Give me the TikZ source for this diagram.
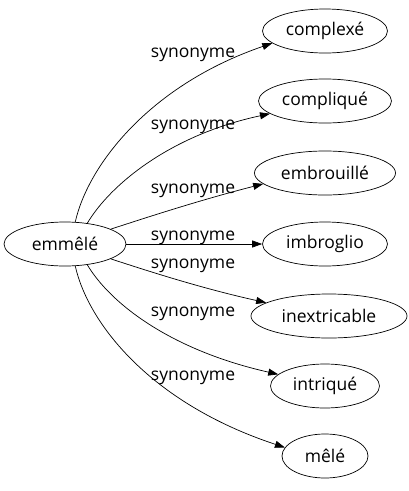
\documentclass[tikz,border=0pt]{standalone}
\usepackage{fontspec}
\setmainfont{Open Sans}
\usetikzlibrary{shapes.geometric,arrows.meta}
\begin{document}
\begin{tikzpicture}[x=1pt,y=-1pt,
  word/.style={draw,ellipse,inner sep=0pt,minimum height=44pt,line width=0.7pt,font=\fontsize{17.5}{20}\selectfont},
  rel/.style={-{Triangle[length=10pt,width=7pt]},line width=0.7pt},
  lab/.style={font=\fontsize{17.5}{20}\selectfont,inner sep=0pt,anchor=base}]
\useasboundingbox (0,0) rectangle (408,491);
\node[word,minimum width=122pt] (src) at (65,244) {emmêlé};
\node[word,minimum width=125pt] (a) at (325,31) {complexé};
\node[word,minimum width=133pt] (b) at (325,101) {compliqué};
\node[word,minimum width=141pt] (c) at (325,173) {embrouillé};
\node[word,minimum width=125pt] (d) at (325,244) {imbroglio};
\node[word,minimum width=156pt] (e) at (329,316) {inextricable};
\node[word,minimum width=109pt] (f) at (325,386) {intriqué};
\node[word,minimum width=86pt] (g) at (325,456) {mêlé};
\draw[rel] (src.65) .. controls (88,165) and (150,85) .. (a.193);
\draw[rel] (src.43) .. controls (110,185) and (170,135) .. (b.193);
\draw[rel] (src.18) .. controls (145,218) and (200,200) .. (c.190);
\draw[rel] (src) -- (d);
\draw[rel] (src.-18) .. controls (145,270) and (200,288) .. (e.168);
\draw[rel] (src.-43) .. controls (110,303) and (170,350) .. (f.166);
\draw[rel] (src.-65) .. controls (88,323) and (150,403) .. (g.168);
\node[lab] (l1) at (193,57) {synonyme};
\node[lab] (l2) at (193,129) {synonyme};
\node[lab] (l3) at (193,193) {synonyme};
\node[lab] (l4) at (193,240) {synonyme};
\node[lab] (l5) at (193,268) {synonyme};
\node[lab] (l6) at (193,316) {synonyme};
\node[lab] (l7) at (193,380) {synonyme};
\end{tikzpicture}
\end{document}
